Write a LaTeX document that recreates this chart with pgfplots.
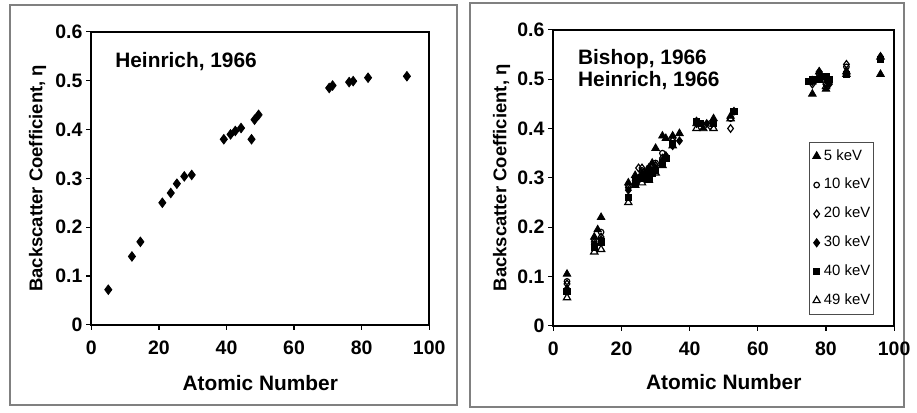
\documentclass[border=0pt]{standalone}
\usepackage{pgfplots}
\pgfplotsset{compat=1.18}
\usepackage{fontspec}
\setmainfont{Liberation Sans}

\pgfplotsset{
  bsaxis/.style={
    scale only axis,
    xmin=0, xmax=100, ymin=0, ymax=0.6,
    xtick={0,20,...,100},
    ytick={0,0.1,0.2,0.3,0.4,0.5,0.6},
    xtick pos=left, ytick pos=left,
    tick align=outside,
    major tick length=2.5pt,
    axis line style={line width=1.1pt},
    tick style={black, line width=0.6pt},
    /pgf/number format/assume math mode=true,
    /pgf/number format/fixed,
    ticklabel style={font=\fontsize{9.8}{11}\selectfont\bfseries},
    yticklabel style={xshift=1.5pt},
    xticklabel style={yshift=-2pt},
    xlabel={Atomic Number},
    ylabel={Backscatter Coefficient, η},
    xlabel style={font=\fontsize{10.5}{12}\selectfont\bfseries, anchor=center},
    ylabel style={font=\fontsize{9.3}{11}\selectfont\bfseries, anchor=center},
  },
}

\begin{document}
\begin{tikzpicture}
\path (0pt,0pt) rectangle (458.5pt,207.5pt);
% panel frames
\draw[black!50, line width=0.9pt] (5pt,3.5pt) rectangle (230pt,205pt);
\draw[black!50, line width=0.9pt] (236.5pt,2.5pt) rectangle (455pt,206pt);

% ---------------- left panel ----------------
\begin{axis}[bsaxis,
  at={(46pt,44pt)}, anchor=south west,
  width=170pt, height=147.5pt,
  xlabel style={at={(axis description cs:0.5,-0.197)}},
  ylabel style={at={(axis description cs:-0.159,0.5)}},
]
\addplot[only marks, mark=diamond*, mark size=2.4pt, black] coordinates {
  (5,0.072) (12,0.14) (14.5,0.17) (21,0.25) (23.5,0.27) (25.3,0.289)
  (27.5,0.304) (29.7,0.307) (39.2,0.38) (41.2,0.39) (42.6,0.397)
  (44.3,0.403) (47.4,0.38) (48.3,0.42) (49.5,0.43)
  (70.4,0.485) (71.4,0.49) (76.3,0.497) (77.5,0.499) (81.9,0.506) (93.4,0.509)
};
\node[anchor=west, font=\fontsize{10.5}{12}\selectfont\bfseries]
  at (axis cs:5,0.54) {Heinrich, 1966};
\end{axis}

% ---------------- right panel ----------------
\begin{axis}[bsaxis,
  at={(278.5pt,43.5pt)}, anchor=south west,
  width=171.5pt, height=149pt,
  xlabel style={at={(axis description cs:0.5,-0.191)}},
  ylabel style={at={(axis description cs:-0.152,0.5)}},
  legend style={at={(rel axis cs:0.942,0.037)}, anchor=south east,
    draw=black!70, line width=0.5pt, font=\fontsize{7.5}{8}\selectfont,
    inner xsep=1pt, inner ysep=2.5pt, row sep=5.6pt,
    nodes={inner xsep=0.8pt, inner ysep=1pt}},
  legend cell align=left,
  legend image code/.code={%
    \draw[#1, line width=0.5pt] plot coordinates {(0.1cm,0cm)};
    \path[draw=none] (0cm,0cm) (0.2cm,0cm);},
]
% 5 keV
\addplot[only marks, mark=triangle*, mark size=2.2pt, black] coordinates {
  (4,0.105) (12,0.18) (13,0.195) (14,0.22) (22,0.29) (24,0.305) (26,0.31)
  (28,0.32) (29,0.33) (30,0.36) (32,0.385) (33,0.38) (35,0.385) (37,0.39)
  (42,0.41) (44,0.40) (47,0.42) (52,0.425)
  (76,0.47) (78,0.515) (80,0.48) (86,0.51) (96,0.51)
};
\addlegendentry{5 keV}
% 10 keV
\addplot[only marks, mark=o, mark size=1.4pt, black, mark options={fill=white, line width=0.6pt}] coordinates {
  (4,0.09) (12,0.175) (14,0.19) (22,0.285) (24,0.30) (26,0.315) (28,0.32)
  (30,0.33) (32,0.35) (35,0.38) (42,0.415) (46,0.41) (52,0.42)
  (76,0.50) (78,0.51) (80,0.49) (86,0.525) (96,0.54)
};
\addlegendentry{10 keV}
% 20 keV
\addplot[only marks, mark=diamond, mark size=1.9pt, black, mark options={fill=white, line width=0.6pt}] coordinates {
  (4,0.085) (12,0.17) (14,0.18) (22,0.28) (24,0.30) (25,0.32) (26,0.32) (28,0.31)
  (30,0.325) (32,0.34) (35,0.375) (42,0.41) (46,0.405) (52,0.40)
  (76,0.49) (78,0.515) (80,0.49) (86,0.53) (96,0.545)
};
\addlegendentry{20 keV}
% 30 keV
\addplot[only marks, mark=diamond*, mark size=2pt, black] coordinates {
  (4,0.075) (12,0.165) (14,0.175) (22,0.275) (24,0.295) (26,0.305) (27,0.31)
  (28,0.31) (29,0.315) (30,0.32) (32,0.335) (33,0.345) (35,0.365) (37,0.375)
  (42,0.415) (45,0.41) (47,0.415) (53,0.435)
  (76,0.495) (78,0.505) (80,0.50) (81,0.49) (86,0.515) (96,0.545)
};
\addlegendentry{30 keV}
% 40 keV
\addplot[only marks, mark=square*, mark size=1.6pt, black] coordinates {
  (4,0.07) (12,0.16) (14,0.17) (22,0.26) (24,0.29) (26,0.30) (27,0.305)
  (28,0.30) (29,0.31) (30,0.315) (32,0.33) (33,0.34) (35,0.37)
  (42,0.415) (43,0.41) (47,0.41) (53,0.435)
  (75,0.495) (76,0.50) (78,0.50) (80,0.505) (81,0.50) (86,0.51) (96,0.54)
};
\addlegendentry{40 keV}
% 49 keV
\addplot[only marks, mark=triangle, mark size=2.1pt, black, mark options={fill=white, line width=0.6pt}] coordinates {
  (4,0.057) (12,0.15) (14,0.155) (22,0.25) (24,0.285) (26,0.29) (28,0.295)
  (30,0.31) (32,0.325) (35,0.365) (42,0.40) (47,0.40) (52,0.42)
  (76,0.495) (78,0.50) (80,0.485) (86,0.515) (96,0.545)
};
\addlegendentry{49 keV}
\node[anchor=west, font=\fontsize{10.5}{12}\selectfont\bfseries, align=left]
  at (axis cs:5.2,0.52) {Bishop, 1966\\[-1pt]Heinrich, 1966};
\end{axis}
\end{tikzpicture}
\end{document}
